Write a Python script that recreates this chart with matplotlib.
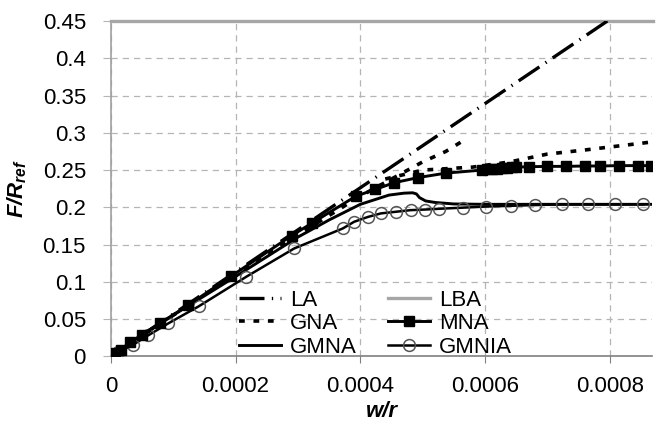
import numpy as np
import matplotlib
matplotlib.use("Agg")
import matplotlib.pyplot as plt

plt.rcParams["font.family"] = ["Liberation Sans", "DejaVu Sans"]
plt.rcParams["mathtext.fontset"] = "custom"
plt.rcParams["mathtext.rm"] = "Liberation Sans:bold:italic"
plt.rcParams["mathtext.it"] = "Liberation Sans:bold:italic"

# --- dane ---
la_x = [0.0, 0.00087]
la_y = [0.0, 0.492]

lba_x = [0.0, 0.00087]
lba_y = [0.45, 0.45]

# GNA: dwie galezie (stroma i lagodna), przerwa przez nan
gna_x = [0.0, 0.0001, 0.0002, 0.0003, 0.0004, 0.00045, 0.0005, 0.000537, 0.000566,
         np.nan,
         0.00044, 0.0005, 0.00058, 0.00064, 0.0007, 0.00076, 0.00082, 0.00087]
gna_y = [0.0, 0.055, 0.110, 0.163, 0.215, 0.238, 0.261, 0.275, 0.290,
         np.nan,
         0.238, 0.250, 0.254, 0.261, 0.2715, 0.277, 0.283, 0.288]

mna_x = [0.0, 0.000006, 0.000017, 0.000031, 0.00005, 0.000078, 0.000124, 0.000193,
         0.00029, 0.000323, 0.000393, 0.000424, 0.000454, 0.000493, 0.000538,
         0.000595, 0.000603, 0.000611, 0.000619, 0.000627, 0.000635, 0.000643,
         0.00065, 0.00067, 0.000699, 0.00073, 0.00076, 0.000785, 0.000815,
         0.000845, 0.000866]
mna_y = [0.0, 0.0036, 0.0085, 0.0185, 0.029, 0.0439, 0.0685, 0.1075,
         0.162, 0.179, 0.215, 0.224, 0.233, 0.240, 0.246,
         0.250, 0.251, 0.2515, 0.252, 0.2525, 0.253, 0.2535,
         0.254, 0.2545, 0.255, 0.255, 0.2555, 0.2555, 0.256,
         0.256, 0.256]

gmna_x = [0.0, 0.0001, 0.0002, 0.0003, 0.00035, 0.0004, 0.000446, 0.00047, 0.000484,
          0.00049, 0.000495, 0.000505, 0.00052, 0.00055, 0.0006, 0.0007, 0.0008, 0.00087]
gmna_y = [0.0, 0.055, 0.107, 0.160, 0.183, 0.204, 0.2164, 0.219, 0.2195,
          0.218, 0.213, 0.2085, 0.2065, 0.2045, 0.204, 0.204, 0.204, 0.204]

gmnia_x = [0.0, 0.000012, 0.000035, 0.00006, 0.000092, 0.000141, 0.000217, 0.000294,
           0.000372, 0.00039, 0.000412, 0.000433, 0.000457, 0.000481, 0.000504,
           0.000526, 0.000564, 0.000601, 0.000641, 0.000681, 0.000724, 0.000766,
           0.000809, 0.000854]
gmnia_y = [0.0, 0.005, 0.015, 0.028, 0.044, 0.067, 0.1066, 0.1447,
           0.1716, 0.1805, 0.187, 0.1918, 0.194, 0.1962, 0.197,
           0.198, 0.1995, 0.201, 0.202, 0.203, 0.204, 0.204,
           0.204, 0.204]

x_ticks = [0, 0.0002, 0.0004, 0.0006, 0.0008]
x_ticklabels = ["0", "0.0002", "0.0004", "0.0006", "0.0008"]
y_ticks = [0, 0.05, 0.1, 0.15, 0.2, 0.25, 0.3, 0.35, 0.4, 0.45]
y_ticklabels = ["0", "0.05", "0.1", "0.15", "0.2", "0.25", "0.3", "0.35", "0.4", "0.45"]

FS = 16

fig = plt.figure(figsize=(6.6, 4.25), dpi=100)
ax = fig.add_axes([0.168, 0.162, 0.82, 0.788])

ax.plot(la_x, la_y, color="black", lw=2.4, dashes=(7.5, 2.2, 0.4, 2.2), label="LA", zorder=4)
ax.plot(gna_x, gna_y, color="black", lw=2.6, dashes=(1.6, 2.4), label="GNA", zorder=4)
ax.plot(gmna_x, gmna_y, color="black", lw=2.1, label="GMNA", zorder=5)
ax.plot(lba_x, lba_y, color="#a6a6a6", lw=2.4, label="LBA", clip_on=False, zorder=3)
ax.plot(mna_x, mna_y, color="black", lw=2.1, marker="s", ms=7.5, label="MNA", zorder=6)
ax.plot(gmnia_x, gmnia_y, color="black", lw=1.8, marker="o", ms=8.5, mfc="none",
        mec="#555555", mew=1.1, label="GMNIA", zorder=5)

ax.set_xlim(0, 0.000868)
ax.set_ylim(0, 0.45)
ax.set_xticks(x_ticks)
ax.set_xticklabels(x_ticklabels)
ax.set_yticks(y_ticks)
ax.set_yticklabels(y_ticklabels)

ax.grid(True, color="#b5b5b5", linestyle=(0, (5, 4)), lw=0.9)
ax.set_axisbelow(True)

for s in ["top", "right"]:
    ax.spines[s].set_visible(False)
ax.spines["left"].set_color("#a0a0a0")
ax.spines["left"].set_linewidth(1.2)
ax.spines["bottom"].set_color("#808080")
ax.spines["bottom"].set_linewidth(1.2)

ax.tick_params(axis="x", direction="out", length=5, color="#808080", labelsize=FS, pad=9)
ax.tick_params(axis="y", direction="out", length=6, color="#b5b5b5", labelsize=FS, pad=12)

ax.set_xlabel("w/r", fontsize=FS, fontweight="bold", fontstyle="italic", labelpad=3)
ax.set_ylabel("$F/R_{ref}$", fontsize=FS, labelpad=10)

leg = ax.legend(ncol=2, loc="lower left", bbox_to_anchor=(0.2, -0.065), frameon=False,
                fontsize=FS, handlelength=1.9, columnspacing=1.4, labelspacing=0.12,
                handletextpad=0.4)

fig.savefig("out.png", dpi=100)
